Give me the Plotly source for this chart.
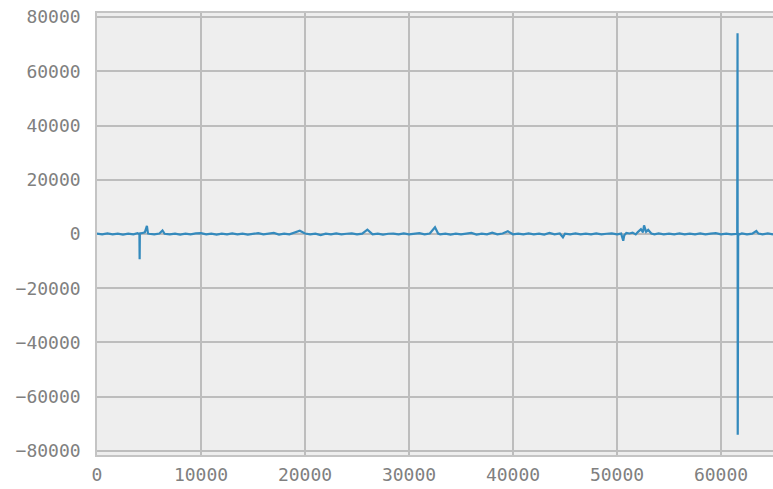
import plotly.graph_objects as go

# sample position (index) and value of the plotted series
idx = [0, 500, 1000, 1500, 2000, 2500, 3000, 3500, 3900, 4080, 4100, 4120, 4300, 4600, 4800, 4900, 5000,
       5500, 6000, 6300, 6500, 7000, 7500, 8000, 8500, 9000, 9500, 10000, 10500, 11000, 11500, 12000,
       12500, 13000, 13500, 14000, 14500, 15000, 15500, 16000, 16500, 17000, 17500, 18000, 18500, 19000,
       19500, 20000, 20500, 21000, 21500, 22000, 22500, 23000, 23500, 24000, 24500, 25000, 25500, 26000,
       26500, 27000, 27500, 28000, 28500, 29000, 29500, 30000, 30500, 31000, 31500, 32000, 32500, 32800,
       33000, 33500, 34000, 34500, 35000, 35500, 36000, 36500, 37000, 37500, 38000, 38500, 39000, 39500,
       40000, 40500, 41000, 41500, 42000, 42500, 43000, 43500, 44000, 44500, 44800, 45000, 45500, 46000,
       46500, 47000, 47500, 48000, 48500, 49000, 49500, 50000, 50400, 50600, 50700, 50900, 51200, 51500,
       51800, 52000, 52300, 52500, 52600, 52800, 53000, 53300, 53600, 54000, 54500, 55000, 55500, 56000,
       56500, 57000, 57500, 58000, 58500, 59000, 59500, 60000, 60500, 61000, 61560, 61590, 61610, 61650,
       61800, 62000, 62500, 63000, 63400, 63600, 64000, 64500, 65000]
val = [150, -150, 200, -100, 150, -200, 100, -150, 300, -150, -9300, 200, 300, 600, 3000, 200, 100,
       -150, 200, 1300, 100, -150, 150, -200, 100, -150, 200, 300, -150, 100, -200, 150,
       -100, 200, -150, 150, -200, 100, 300, -150, 150, 400, -200, 150, -100, 500,
       1200, 200, -150, 100, -400, 150, -100, 200, -150, 100, 200, -150, 150, 1600,
       -100, 150, -200, 100, 150, -150, 200, -100, 150, 300, -150, 200, 2500, 150,
       -100, 150, -200, 100, -150, 150, 400, -200, 150, -100, 500, -150, 200, 1000,
       -100, 150, -150, 200, -100, 150, -200, 400, -150, 200, -1200, 150, -100, 200,
       -150, 150, -100, 200, -150, 100, 200, -150, 150, -2500, -500, 400, 200, 500,
       -150, 700, 1800, 600, 3200, 800, 1500, 200, -100, 200, -150, 150, -100, 200,
       -150, 150, -100, 200, -150, 150, 300, -100, 150, -150, 100, 74000, -74000, 150,
       -100, 200, -150, 150, 1100, 150, -100, 200, -150]

x_ticks = [0, 10000, 20000, 30000, 40000, 50000, 60000]
y_ticks = [-80000, -60000, -40000, -20000, 0, 20000, 40000, 60000, 80000]


def lab(t):
    return str(t).replace('-', '\u2212')


fig = go.Figure()
fig.add_trace(go.Scatter(x=idx, y=val, mode='lines',
                         line=dict(color='#348ABD', width=2.2), showlegend=False))

fig.update_xaxes(range=[0, 65000], tickvals=x_ticks, ticktext=[lab(t) for t in x_ticks],
                 showgrid=True, gridcolor='#bdbdbd', gridwidth=1.6, zeroline=False,
                 showline=True, linecolor='#c4c4c4', linewidth=1.6, mirror=True, ticks='',
                 automargin=False, ticklabelstandoff=3, ticklabeloverflow='allow')
fig.update_yaxes(range=[-81500, 81500], tickvals=y_ticks, ticktext=[lab(t) for t in y_ticks],
                 showgrid=True, gridcolor='#bdbdbd', gridwidth=1.6, zeroline=False,
                 showline=True, linecolor='#c4c4c4', linewidth=1.6, mirror=False, ticks='',
                 automargin=False, ticklabelstandoff=11, ticklabeloverflow='allow')

fig.update_layout(
    width=773,
    height=489,
    margin=dict(l=97, r=0, t=13, b=34),
    plot_bgcolor='#eeeeee',
    paper_bgcolor='white',
    font=dict(family='DejaVu Sans Mono', size=18, color='#808080'),
)
# drop the default page margin so the 773x489 figure fills the window exactly
fig.write_html("out.html", config={'displayModeBar': False},
               post_script="document.body.style.margin='0';document.body.style.overflow='hidden';")
